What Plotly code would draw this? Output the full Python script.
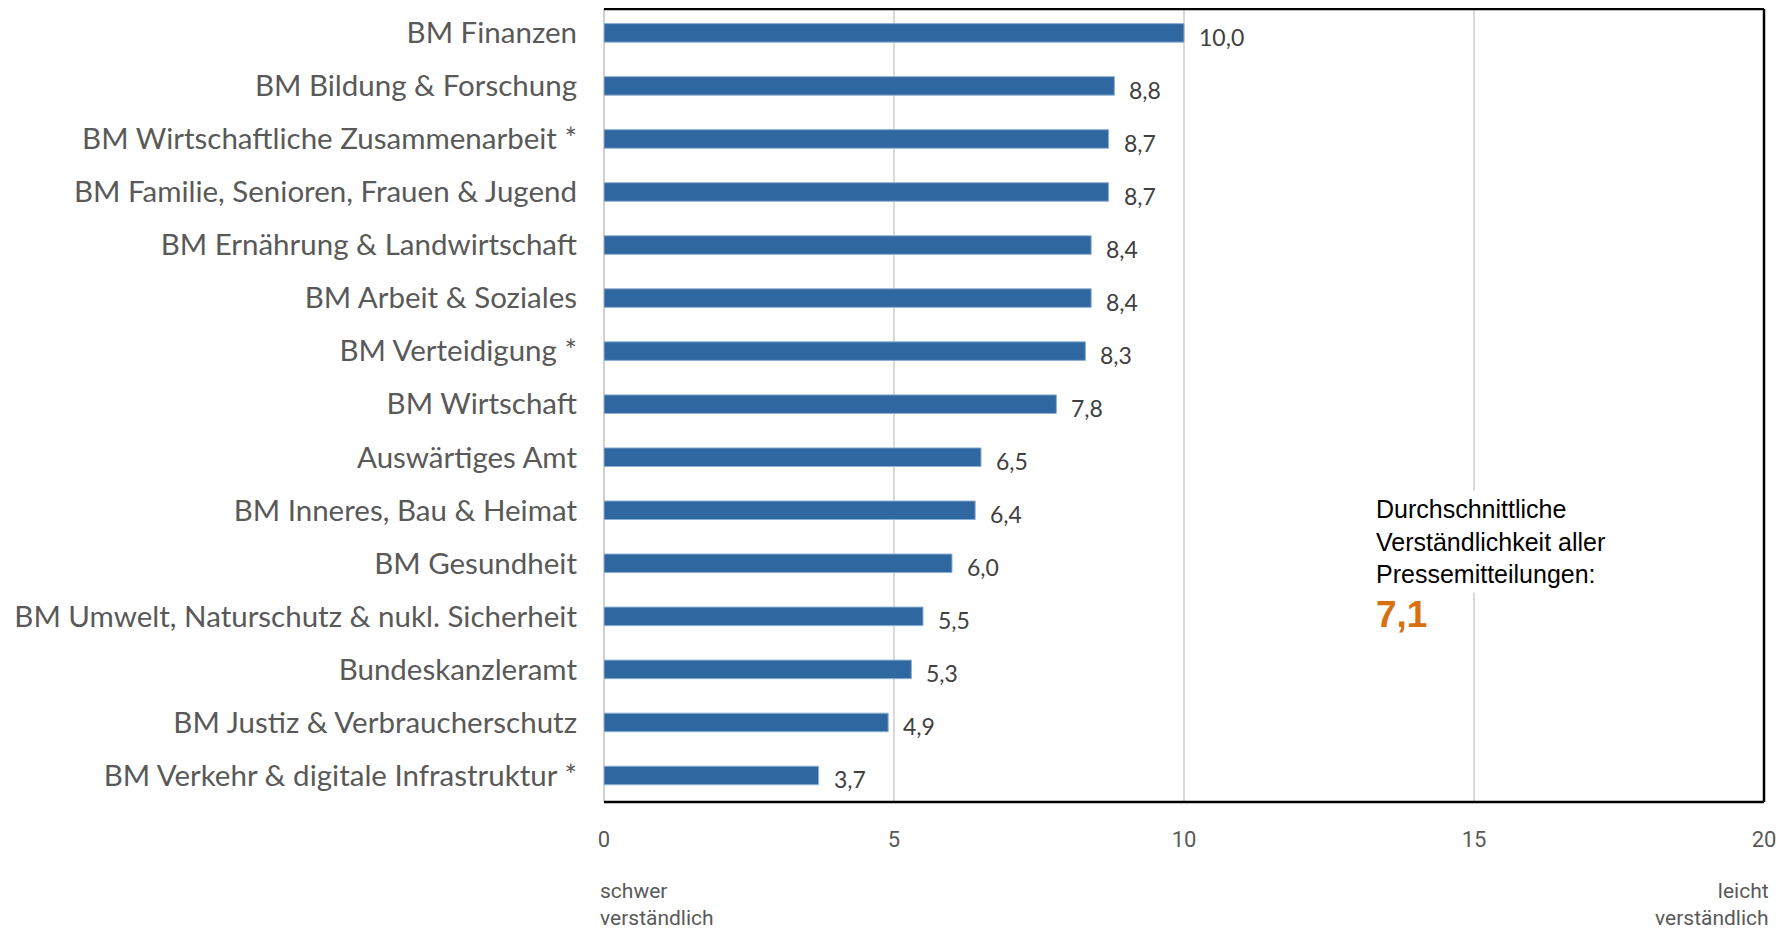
import plotly.graph_objects as go

categories = [
    "BM Finanzen",
    "BM Bildung & Forschung",
    "BM Wirtschaftliche Zusammenarbeit *",
    "BM Familie, Senioren, Frauen & Jugend",
    "BM Ernährung & Landwirtschaft",
    "BM Arbeit & Soziales",
    "BM Verteidigung *",
    "BM Wirtschaft",
    "Auswärtiges Amt",
    "BM Inneres, Bau & Heimat",
    "BM Gesundheit",
    "BM Umwelt, Naturschutz & nukl. Sicherheit",
    "Bundeskanzleramt",
    "BM Justiz & Verbraucherschutz",
    "BM Verkehr & digitale Infrastruktur *",
]
values = [10.0, 8.8, 8.7, 8.7, 8.4, 8.4, 8.3, 7.8, 6.5, 6.4, 6.0, 5.5, 5.3, 4.9, 3.7]
average = 7.1
x_ticks = [0, 5, 10, 15, 20]

BAR = "#2F67A0"
LABEL_FONT = "Lato, Carlito, Calibri, sans-serif"
NARROW_FONT = "Liberation Sans Narrow, Arial Narrow, Roboto, sans-serif"


def de(v):
    return f"{v:.1f}".replace(".", ",")


fig = go.Figure()
fig.add_trace(go.Bar(
    y=categories, x=values, orientation="h",
    marker=dict(color=BAR, line=dict(color="#8fb0d3", width=1)),
    width=0.35, hoverinfo="skip",
))

annotations = []
for c, v in zip(categories, values):
    annotations.append(dict(
        x=v, y=c, xref="x", yref="y", text=de(v),
        showarrow=False, xanchor="left", yanchor="middle", xshift=13, yshift=-4,
        font=dict(family=LABEL_FONT, size=23, color="#404040"),
    ))

annotations.append(dict(
    x=0.661, y=0.393,
    xref="paper", yref="paper", showarrow=False,
    xanchor="left", yanchor="top", align="left",
    text="Durchschnittliche<br>Verständlichkeit aller<br>Pressemitteilungen:",
    font=dict(family="Liberation Sans, Arial, sans-serif", size=25, color="#000000"),
    bgcolor="#ffffff", borderpad=4,
))
annotations.append(dict(
    x=0.661, y=0.237,
    xref="paper", yref="paper", showarrow=False,
    xanchor="left", yanchor="middle", align="left",
    text=f"<b>{de(average)}</b>",
    font=dict(family="Liberation Sans, Arial, sans-serif", size=37, color="#D9700F"),
    bgcolor="#ffffff", borderpad=4,
))

annotations.append(dict(
    x=-0.005, y=-0.094, xref="paper", yref="paper", showarrow=False,
    xanchor="left", yanchor="top", align="left",
    text="schwer<br>verständlich",
    font=dict(family=NARROW_FONT, size=21, color="#595959"),
))
annotations.append(dict(
    x=1.006, y=-0.094, xref="paper", yref="paper", showarrow=False,
    xanchor="right", yanchor="top", align="right",
    text="leicht<br>verständlich",
    font=dict(family=NARROW_FONT, size=21, color="#595959"),
))

shapes = [
    dict(type="line", xref="paper", yref="paper", x0=0, x1=1, y0=1, y1=1,
         line=dict(color="#000000", width=2.5)),
    dict(type="line", xref="paper", yref="paper", x0=1, x1=1, y0=0, y1=1,
         line=dict(color="#000000", width=2.5)),
    dict(type="line", xref="paper", yref="paper", x0=0, x1=1, y0=0, y1=0,
         line=dict(color="#000000", width=2.5)),
]

fig.update_layout(
    width=1781, height=923,
    margin=dict(l=596, r=25, t=1, b=129),
    paper_bgcolor="#ffffff", plot_bgcolor="#ffffff",
    showlegend=False,
    xaxis=dict(
        range=[0, 20], tickvals=x_ticks, ticktext=[str(t) for t in x_ticks],
        showgrid=True, gridcolor="#d9d9d9", gridwidth=2,
        zeroline=True, zerolinecolor="#d0d0d0", zerolinewidth=2,
        showline=False, ticks="", ticklabelstandoff=22,
        tickfont=dict(family=NARROW_FONT, size=22, color="#595959"),
        fixedrange=True,
    ),
    yaxis=dict(
        categoryorder="array", categoryarray=categories,
        range=[14.5, -0.45], showgrid=False, zeroline=False, showline=False,
        ticks="", ticklabelstandoff=26,
        tickfont=dict(family=LABEL_FONT, size=29.5, color="#595959"),
        fixedrange=True,
    ),
    annotations=annotations,
    shapes=shapes,
)

fig.write_html("out.html")
